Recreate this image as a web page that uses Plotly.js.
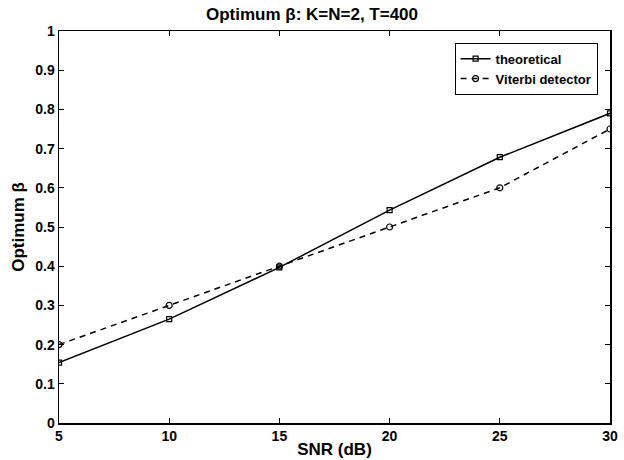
<!DOCTYPE html>
<html><head><meta charset="utf-8">
<script src="https://cdn.plot.ly/plotly-3.0.1.min.js"></script>
<style>body{margin:0;background:#fff}#c{width:624px;height:460px}</style>
</head><body><div id="c"></div>
<script>
const snr = [5, 10, 15, 20, 25, 30];
const theoretical = [0.154, 0.265, 0.397, 0.543, 0.678, 0.79];
const viterbi = [0.2, 0.3, 0.4, 0.5, 0.6, 0.75];
const xTicks = [5, 10, 15, 20, 25, 30];
const xTickText = ['5', '10', '15', '20', '25', '30'];
const yTicks = [0, 0.1, 0.2, 0.3, 0.4, 0.5, 0.6, 0.7, 0.8, 0.9, 1];
const yTickText = ['0', '0.1', '0.2', '0.3', '0.4', '0.5', '0.6', '0.7', '0.8', '0.9', '1'];

const font = 'Liberation Sans, Arial, sans-serif';
const bold = a => a.map(s => '<b>' + s + '</b>');
const traces = [
  {x: snr, y: theoretical, name: '<b>theoretical</b>', mode: 'lines+markers',
   line: {color: '#000', width: 1.5, dash: 'solid'},
   marker: {symbol: 'square-open', size: 5, color: '#000', line: {width: 1.2}}},
  {x: snr, y: viterbi, name: '<b>Viterbi detector</b>', mode: 'lines+markers',
   line: {color: '#000', width: 1.5, dash: '6px,5px'},
   marker: {symbol: 'circle-open', size: 6, color: '#000', line: {width: 1.2}}}
];
const axis = {
  showline: true, linecolor: '#000', linewidth: 1.5, mirror: 'ticks',
  ticks: 'inside', ticklen: 5, tickcolor: '#000', tickwidth: 1,
  showgrid: false, zeroline: false,
  tickfont: {family: font, size: 14, color: '#000'}
};
const layout = {
  width: 624, height: 460,
  margin: {l: 59, r: 14, t: 31, b: 37},
  paper_bgcolor: '#fff', plot_bgcolor: '#fff',
  font: {family: font, color: '#000'},
  title: {text: '<b>Optimum β: K=N=2, T=400</b>', font: {family: font, size: 17, color: '#000'},
          x: 0.5, xanchor: 'center', y: 0.969, yanchor: 'middle'},
  xaxis: Object.assign({}, axis, {range: [5, 30], tickvals: xTicks, ticktext: bold(xTickText),
    title: {text: '<b>SNR (dB)</b>', font: {family: font, size: 17, color: '#000'}, standoff: 0}}),
  yaxis: Object.assign({}, axis, {range: [0, 1], tickvals: yTicks, ticktext: bold(yTickText),
    title: {text: '<b>Optimum β</b>', font: {family: font, size: 17, color: '#000'}, standoff: 6}}),
  showlegend: true,
  legend: {x: 0.9775, xanchor: 'right', y: 0.97, yanchor: 'top',
    bordercolor: '#000', borderwidth: 1, bgcolor: '#fff',
    font: {family: font, size: 13, color: '#000'},
    itemwidth: 30, tracegroupgap: 0}
};
Plotly.newPlot('c', traces, layout, {displayModeBar: false, staticPlot: true});
</script></body></html>
